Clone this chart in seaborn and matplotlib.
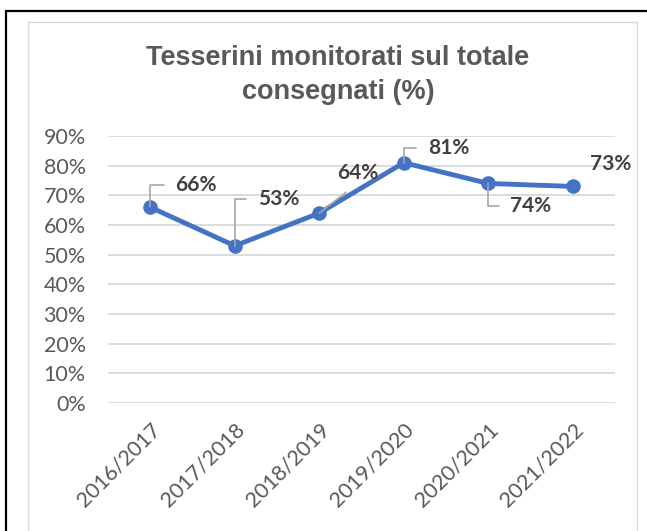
import matplotlib
matplotlib.use("Agg")
import matplotlib.pyplot as plt
import seaborn as sns
import pandas as pd
from matplotlib.patches import Rectangle
from matplotlib.ticker import PercentFormatter

seasons = ["2016/2017", "2017/2018", "2018/2019", "2019/2020", "2020/2021", "2021/2022"]
share = [0.66, 0.53, 0.64, 0.81, 0.74, 0.73]
labels = ["66%", "53%", "64%", "81%", "74%", "73%"]

sns.set_style("white")
plt.rcParams['font.family'] = ['Lato', 'DejaVu Sans']

df = pd.DataFrame({"season": seasons, "share": share})

fig = plt.figure(figsize=(6.47, 5.31), dpi=100)
ax = fig.add_axes([108 / 647, 1 - 403 / 531, (615 - 108) / 647, (403 - 136) / 531])

sns.lineplot(data=df, x="season", y="share", ax=ax, color="#4472C4", linewidth=3.5,
             marker="o", markersize=10.5, markeredgewidth=0, sort=False)

ax.set_ylim(0, 0.9)
ax.set_xlim(-0.5, len(seasons) - 0.5)
ax.set_yticks([i / 10 for i in range(10)])
ax.yaxis.set_major_formatter(PercentFormatter(1.0, decimals=0))
ax.yaxis.grid(True, color="#d9d9d9", linewidth=1.3)
ax.set_axisbelow(True)
for s in ax.spines.values():
    s.set_visible(False)
ax.set_xlabel("")
ax.set_ylabel("")
ax.tick_params(axis="y", length=0, pad=16, labelsize=15.5, labelcolor="#595959")
ax.tick_params(axis="x", length=0, pad=12, labelsize=15.5, labelcolor="#595959")
for t in ax.get_xticklabels():
    t.set_rotation(45)
    t.set_ha("right")
    t.set_rotation_mode("anchor")

# data labels: offset in pixels, leader style
offsets = [(25, 22, "elbow"), (23, 47, "elbow"), (18, 40, "diag"),
           (24, 15, "elbow"), (22, -23, "elbow"), (17, 22, None)]
for i, (v, lab) in enumerate(zip(share, labels)):
    dx, dy, kind = offsets[i]
    props = None
    if kind == "elbow":
        props = dict(arrowstyle="-", color="#a6a6a6", lw=1.2, shrinkA=6, shrinkB=0,
                     relpos=(0, 0.5), connectionstyle="angle,angleA=0,angleB=90,rad=0")
    elif kind == "diag":
        props = dict(arrowstyle="-", color="#a6a6a6", lw=1.2, shrinkA=7, shrinkB=0,
                     relpos=(0.5, 0), connectionstyle="arc3")
    ax.annotate(lab, xy=(i, v), xytext=(dx, dy), textcoords="offset pixels",
                ha="left", va="center", fontsize=15, fontweight="bold", color="#404040",
                arrowprops=props, annotation_clip=False, zorder=5)

fig.text(338 / 647, 1 - 75 / 531, "Tesserini monitorati sul totale\nconsegnati (%)",
         ha="center", va="center", fontsize=19.5, fontweight="bold", color="#595959",
         family="Liberation Sans", linespacing=1.42)

# chart frames
fig.patches.append(Rectangle((6 / 647, -0.1), 2, 1 - 11 / 531 + 0.1, transform=fig.transFigure,
                             fill=False, edgecolor="black", linewidth=1.6))
fig.patches.append(Rectangle((28 / 647, -0.1), (637 - 28) / 647, 1 - 22 / 531 + 0.1,
                             transform=fig.transFigure, fill=False, edgecolor="#d9d9d9",
                             linewidth=1.0))

fig.savefig("out.png", dpi=100)
